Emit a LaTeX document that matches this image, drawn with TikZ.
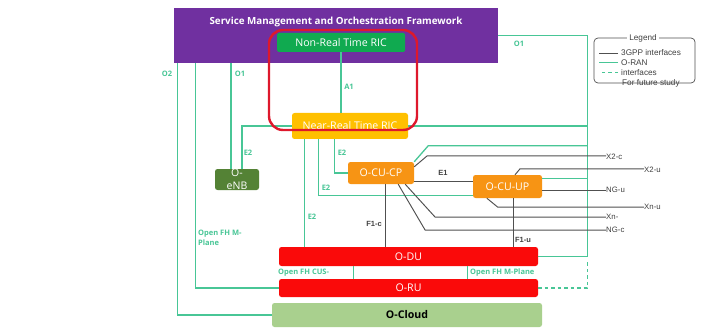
\documentclass[tikz,border=0pt]{standalone}
\usepackage{fontspec}
\setmainfont{Open Sans}
\newfontfamily\arialish{Liberation Sans}
\usetikzlibrary{calc}

\definecolor{smoPurple}{RGB}{112,48,160}
\definecolor{ricGreen}{RGB}{16,170,80}
\definecolor{ricYellow}{RGB}{255,192,0}
\definecolor{cuOrange}{RGB}{247,148,20}
\definecolor{duRed}{RGB}{250,10,10}
\definecolor{cloudGreen}{RGB}{169,208,142}
\definecolor{enbGreen}{RGB}{84,130,53}
\definecolor{frameRed}{RGB}{222,24,44}
\definecolor{oranTeal}{RGB}{72,198,150}
\definecolor{gppGray}{RGB}{80,80,80}

\begin{document}
\begin{tikzpicture}[x=1pt,y=-1pt,
  box/.style={rounded corners=2.5pt, inner sep=0pt, text=white, font=\fontsize{10.6}{12}\selectfont},
  oran/.style={draw=oranTeal, line width=1.3pt},
  gpp/.style={draw=gppGray, line width=0.95pt},
  future/.style={oran, dash pattern=on 3.5pt off 3pt},
  tlab/.style={text=oranTeal, font=\fontsize{7.5}{9}\selectfont\bfseries, inner sep=0pt},
  glab/.style={text=gppGray!80!black, font=\arialish\fontsize{7.8}{9}\selectfont, inner sep=0pt},
  gblab/.style={glab, font=\arialish\fontsize{7.5}{9}\selectfont\bfseries},
  legtxt/.style={glab, font=\arialish\fontsize{8.2}{9}\selectfont},
]
\path[use as bounding box, fill=white] (0,0) rectangle (708,331);

% --- boxes ---
\node[box, fill=smoPurple, rounded corners=0pt, minimum width=324, minimum height=55] (smo) at (336,35.5) {};
\node[text=white, inner sep=0pt, font=\fontsize{9.8}{11}\selectfont\bfseries] (smotitle) at (336,21.5) {Service Management and Orchestration Framework};
\node[box, fill=ricGreen, minimum width=128, minimum height=19, rounded corners=1.5pt] (nonrt) at (341,42.5) {Non-Real Time RIC};
\node[box, fill=ricYellow, minimum width=116, minimum height=26] (nearrt) at (350,126) {Near-Real Time RIC};
\node[box, fill=enbGreen, minimum width=44, minimum height=21, align=center, font=\fontsize{10.5}{13}\selectfont] (enb) at (237,179.5) {O-\\eNB};
\node[box, fill=cuOrange, minimum width=66, minimum height=22] (cucp) at (381,173) {O-CU-CP};
\node[box, fill=cuOrange, minimum width=69, minimum height=23] (cuup) at (507.5,186.5) {O-CU-UP};
\node[box, fill=duRed, minimum width=259, minimum height=19] (odu) at (408.5,256.5) {O-DU};
\node[box, fill=duRed, minimum width=259, minimum height=18] (oru) at (408.5,288) {O-RU};
\node[box, fill=cloudGreen, text=black, minimum width=270, minimum height=24, font=\fontsize{10.6}{12}\selectfont\bfseries] (ocloud) at (407,315) {O-Cloud};

% --- 3GPP end labels ---
\node[glab, anchor=west] (x2c) at (606,157) {X2-c};
\node[glab, anchor=west] (x2u) at (644,170) {X2-u};
\node[glab, anchor=west] (ngu) at (606,190) {NG-u};
\node[glab, anchor=west] (xnu) at (644,207) {Xn-u};
\node[glab, anchor=west] (xnc) at (606,217) {Xn-};
\node[glab, anchor=west] (ngc) at (606,230) {NG-c};

% --- O-RAN interfaces ---
\coordinate (o1c) at ($(odu.east)+(49,0)$);
\draw[oran] (smo.east) -| (o1c) -- (odu.east);
\draw[oran] (nearrt.east) -- (nearrt.east -| o1c);
\coordinate (cpo1) at ($(cucp.north east)+(0,0)$);
\draw[oran] (cpo1) -- ++(14,-16) coordinate (cpo1b) -- (cpo1b -| o1c);
\coordinate (upo1) at ($(cuup.north east)+(0,4)$);
\draw[oran] (upo1) -- (upo1 -| o1c);
\draw[future] (oru.east) -- (oru.east -| o1c) -- ($(o1c)+(0,3)$);

\coordinate (o2t) at ($(smo.south west)+(4,0)$);
\draw[oran] (o2t) |- (ocloud.west);
\coordinate (fhm) at ($(smo.south west)+(22,0)$);
\draw[oran] (fhm) |- (oru.west);

\coordinate (o1e) at ($(enb.north)+(-6,0)$);
\draw[oran] (o1e) -- (o1e |- smo.south);
\coordinate (e2e) at ($(enb.north)+(5,0)$);
\draw[oran] (nearrt.west) -| (e2e);

\draw[oran] (nonrt.south) -- (nonrt.south |- nearrt.north);

\coordinate (e2a) at ($(nearrt.south west)+(13,0)$);
\draw[oran] (e2a) -- (e2a |- odu.north);
\coordinate (e2b) at ($(nearrt.south west)+(27,0)$);
\draw[oran] (e2b) |- ($(cuup.south west)+(0,-3)$);
\coordinate (e2c) at ($(nearrt.south west)+(43,0)$);
\draw[oran] (e2c) |- (cucp.west);

\coordinate (cus) at ($(odu.south west)+(75,0)$);
\draw[oran] (cus) -- (cus |- oru.north);
\coordinate (fhr) at ($(odu.south west)+(189,0)$);
\draw[oran] (fhr) -- (fhr |- oru.north);

% --- 3GPP interfaces ---
\coordinate (e1s) at ($(cucp.south east)+(0,-3)$);
\draw[gpp] (e1s) -- (e1s -| cuup.west);
\coordinate (f1c) at ($(cucp.south)+(4,0)$);
\draw[gpp] (f1c) -- (f1c |- odu.north);
\coordinate (f1u) at ($(cuup.south)+(5.5,0)$);
\draw[gpp] (f1u) -- (f1u |- odu.north);

\coordinate (x2cs) at ($(cucp.north east)+(0,5)$);
\draw[gpp] (x2cs) -- ++(13,-11) coordinate (x2cb) -- (x2cb -| x2c.west);
\coordinate (x2us) at ($(cuup.north)+(7.5,0)$);
\draw[gpp] (x2us) -- ++(5,-6) coordinate (x2ub) -- (x2ub -| x2u.west);
\coordinate (ngus) at ($(cuup.east)+(0,3.5)$);
\draw[gpp] (ngus) -- (ngus -| ngu.west);
\coordinate (xnus) at ($(cuup.south west)+(14,0)$);
\draw[gpp] (xnus) -- ++(11,9) coordinate (xnub) -- (xnub -| xnu.west);
\coordinate (xncs) at ($(cucp.south east)+(-9,0)$);
\draw[gpp] (xncs) -- ++(30,33) coordinate (xncb) -- (xncb -| xnc.west);
\coordinate (ngcs) at ($(cucp.south east)+(-16,0)$);
\draw[gpp] (ngcs) -- ++(27,46) coordinate (ngcb) -- (ngcb -| ngc.west);

% --- interface labels ---
\node[tlab] (lo2) at (167,74) {O2};
\node[tlab] (lo1a) at (240,74) {O1};
\node[tlab] (lo1b) at (519,44) {O1};
\node[tlab] (la1) at (349,87) {A1};
\node[tlab] (le2a) at (248,153) {E2};
\node[tlab] (le2b) at (342,153) {E2};
\node[tlab] (le2c) at (326,188) {E2};
\node[tlab] (le2d) at (312,217) {E2};
\node[tlab, anchor=west, align=left, font=\fontsize{7.5}{10}\selectfont\bfseries] (lfhm) at (198,238) {Open FH M-\\Plane};
\node[tlab, anchor=west] (lcus) at (278,273) {Open FH CUS-};
\node[tlab, anchor=west] (lfhr) at (470,273) {Open FH M-Plane};
\node[gblab] (le1) at (443,173) {E1};
\node[gblab] (lf1c) at (374,224) {F1-c};
\node[gblab] (lf1u) at (523,240) {F1-u};

% --- RIC frame ---
\node[draw=frameRed, line width=2.4pt, rounded corners=14pt, minimum width=148, minimum height=100, inner sep=0pt] (ricframe) at (343,80) {};

% --- legend ---
\node[legtxt, anchor=west] (leg1) at (621,53) {3GPP interfaces};
\node[legtxt, anchor=west] (leg2) at (621,63) {O-RAN};
\node[legtxt, anchor=west] (leg3) at (621,73) {interfaces};
\node[legtxt, anchor=west] (leg4) at (622,83) {For future study};
\draw[gpp, line width=0.6pt] ($(leg1.west)+(-3,0)$) -- ++(-19,0);
\draw[oran, line width=1pt] ($(leg2.west)+(-3,0)$) -- ++(-19,0);
\draw[future, line width=1pt] ($(leg3.west)+(-3,0)$) -- ++(-19,0);
\node[draw=gppGray, line width=0.7pt, rounded corners=4pt, minimum width=101, minimum height=45, inner sep=0pt] (legend) at (644.5,60.5) {};
\node[legtxt, fill=white, inner xsep=2pt, inner ysep=1pt] (legtitle) at (643,38) {Legend};
\end{tikzpicture}
\end{document}
